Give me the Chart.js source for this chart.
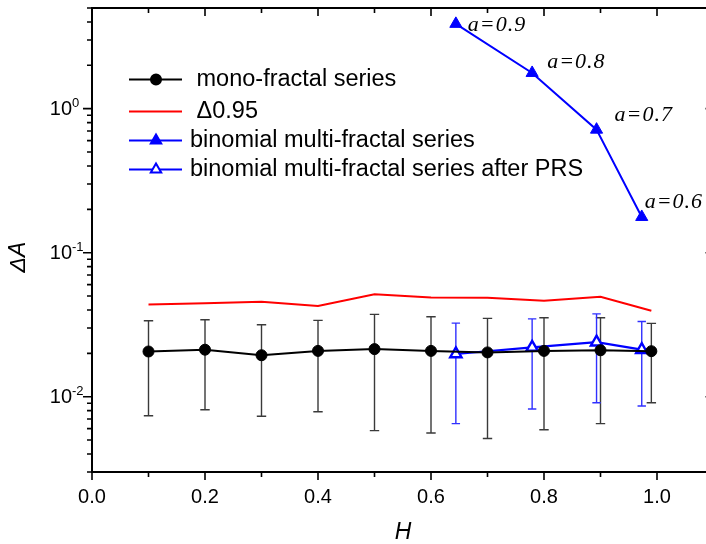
<!DOCTYPE html>
<html><head><meta charset="utf-8">
<script src="https://cdn.jsdelivr.net/npm/chart.js@4/dist/chart.umd.min.js"></script>
<style>html,body{margin:0;padding:0;background:#fff;overflow:hidden;width:706px;height:544px}canvas{display:block}</style>
</head><body>
<canvas id="c" width="714" height="544"></canvas>
<script>
const H_mono = [0.1,0.2,0.3,0.4,0.5,0.6,0.7,0.8,0.9,0.99];
const dA_mono = [0.0206,0.0212,0.0194,0.0208,0.0214,0.0208,0.0203,0.0208,0.0210,0.0207];
const dA_mono_hi = [0.0337,0.0342,0.0316,0.0339,0.0373,0.0359,0.0350,0.0353,0.0353,0.0323];
const dA_mono_lo = [0.00738,0.00812,0.00731,0.00787,0.00581,0.00560,0.00512,0.00590,0.00650,0.00908];
const dA_095 = [0.0437,0.0445,0.0456,0.0426,0.0515,0.0489,0.0487,0.0463,0.0494,0.0395];
const H_binom = [0.644,0.779,0.893,0.973];
const dA_binom = [3.88,1.77,0.715,0.177];
const dA_prs = [0.0198,0.0220,0.0239,0.0212];
const dA_prs_hi = [0.0324,0.0347,0.0376,0.0333];
const dA_prs_lo = [0.00650,0.00822,0.00908,0.00862];
const aLabels = ['a=0.9','a=0.8','a=0.7','a=0.6'];
const seriesNames = [' mono-fractal series',' \u03940.95','binomial multi-fractal series','binomial multi-fractal series after PRS'];
const xMajorTicks = [0,0.2,0.4,0.6,0.8,1.0];
const xTickLabels = ['0.0','0.2','0.4','0.6','0.8','1.0'];
const xMinorTicks = [0.1,0.3,0.5,0.7,0.9,1.1];
const yMajorTicks = [1,0.1,0.01];
const yTickExps = ['0','-1','-2'];
const xTitle = 'H';
const yTitle = '\u0394A';

const SANS = '"Liberation Sans", Arial, sans-serif';
const SERIF = '"Liberation Serif", "Times New Roman", serif';
const BLUE = '#0000ff';

function pts(xs, ys){ return xs.map((x,i)=>({x:x,y:ys[i]})); }

const yMinor = [];
[0.001,0.01,0.1,1].forEach(d=>{ for(let k=2;k<=9;k++){ const v=d*k; if(v>=0.003-1e-9 && v<=5+1e-9) yMinor.push(v);} });

const errPlugin = {
  id:'err',
  beforeDatasetsDraw(chart){
    const ctx=chart.ctx, xs=chart.scales.x, ys=chart.scales.y;
    function bars(X,lo,hi,color,cap,w){
      ctx.save(); ctx.strokeStyle=color; ctx.lineWidth=w;
      X.forEach((x,i)=>{
        const px=xs.getPixelForValue(x), a=ys.getPixelForValue(lo[i]), b=ys.getPixelForValue(hi[i]);
        ctx.beginPath();
        ctx.moveTo(px,a); ctx.lineTo(px,b);
        ctx.moveTo(px-cap,a); ctx.lineTo(px+cap,a);
        ctx.moveTo(px-cap,b); ctx.lineTo(px+cap,b);
        ctx.stroke();
      });
      ctx.restore();
    }
    bars(H_mono,dA_mono_lo,dA_mono_hi,'#3a3a3a',4.7,1.4);
    bars(H_binom,dA_prs_lo,dA_prs_hi,'#3030ff',4.2,1.4);
  }
};

const decoPlugin = {
  id:'deco',
  afterDraw(chart){
    const ctx=chart.ctx, xs=chart.scales.x, ys=chart.scales.y, ca=chart.chartArea;
    ctx.save();
    ctx.strokeStyle='#000'; ctx.lineWidth=2;
    ctx.strokeRect(ca.left,ca.top,ca.right-ca.left,ca.bottom-ca.top);
    ctx.lineWidth=1.6;
    ctx.beginPath();
    xMajorTicks.forEach(v=>{const p=xs.getPixelForValue(v);
      ctx.moveTo(p,ca.bottom); ctx.lineTo(p,ca.bottom+8);
      ctx.moveTo(p,ca.top); ctx.lineTo(p,ca.top+8);});
    xMinorTicks.forEach(v=>{const p=xs.getPixelForValue(v);
      ctx.moveTo(p,ca.bottom); ctx.lineTo(p,ca.bottom+5);
      ctx.moveTo(p,ca.top); ctx.lineTo(p,ca.top+5);});
    yMajorTicks.forEach(v=>{const p=ys.getPixelForValue(v);
      ctx.moveTo(ca.left,p); ctx.lineTo(ca.left-9,p);
      ctx.moveTo(ca.right,p); ctx.lineTo(ca.right-8,p);});
    yMinor.forEach(v=>{const p=ys.getPixelForValue(v);
      ctx.moveTo(ca.left,p); ctx.lineTo(ca.left-5,p);
      ctx.moveTo(ca.right,p); ctx.lineTo(ca.right-5,p);});
    ctx.stroke();
    ctx.fillStyle='#000';
    ctx.font='20px '+SANS; ctx.textAlign='center'; ctx.textBaseline='middle';
    xMajorTicks.forEach((v,i)=>{ ctx.fillText(xTickLabels[i], xs.getPixelForValue(v), ca.bottom+25); });
    yMajorTicks.forEach((v,i)=>{
      const p=ys.getPixelForValue(v);
      ctx.font='20px '+SANS; ctx.textAlign='right'; ctx.textBaseline='middle';
      ctx.fillText('10', 72, p+1);
      ctx.font='13px '+SANS; ctx.textAlign='left';
      ctx.fillText(yTickExps[i], 72, p-5);
    });
    ctx.font='italic 23px '+SANS; ctx.textAlign='center'; ctx.textBaseline='middle';
    ctx.fillText(xTitle, 403, 533);
    ctx.save(); ctx.translate(19,257); ctx.rotate(-Math.PI/2);
    ctx.fillText(yTitle,0,0); ctx.restore();
    const offs=[[12,1],[15,-11],[18,-14],[3,-15]];
    ctx.font='italic 22px '+SERIF; ctx.textAlign='left'; ctx.textBaseline='middle';
    try{ ctx.letterSpacing='1px'; }catch(e){}
    H_binom.forEach((x,i)=>{
      const px=xs.getPixelForValue(x), py=ys.getPixelForValue(dA_binom[i]);
      ctx.fillText(aLabels[i], px+offs[i][0], py+offs[i][1]);
    });
    try{ ctx.letterSpacing='0px'; }catch(e){}
    const rows=[79.5,111.5,140.5,169.5];
    const styles=[
      {c:'#000',m:'circle',fill:'#000'},
      {c:'#ff0000',m:null},
      {c:BLUE,m:'triangle',fill:BLUE},
      {c:BLUE,m:'triangle',fill:'#fff'}];
    rows.forEach((y,i)=>{
      const s=styles[i];
      ctx.strokeStyle=s.c; ctx.lineWidth=2;
      ctx.beginPath(); ctx.moveTo(129,y); ctx.lineTo(182,y); ctx.stroke();
      if(s.m){
        ctx.fillStyle=s.fill; ctx.strokeStyle=s.c; ctx.lineWidth=2;
        Chart.helpers.drawPoint(ctx,{pointStyle:s.m,radius:s.m==='circle'?5:6,borderWidth:s.fill==='#fff'?2:1,rotation:0},156,y);
      }
      ctx.fillStyle='#000'; ctx.font='23.5px '+SANS; ctx.textAlign='left'; ctx.textBaseline='middle';
      ctx.fillText(seriesNames[i],190,y);
    });
    ctx.restore();
  }
};

new Chart(document.getElementById('c'),{
  type:'line',
  data:{datasets:[
    {label:seriesNames[0],data:pts(H_mono,dA_mono),borderColor:'#000',borderWidth:2,pointStyle:'circle',pointRadius:5.5,pointBackgroundColor:'#000',pointBorderColor:'#000',pointBorderWidth:1},
    {label:seriesNames[1],data:pts(H_mono,dA_095),borderColor:'#ff0000',borderWidth:2,pointRadius:0},
    {label:seriesNames[2],data:pts(H_binom,dA_binom),borderColor:BLUE,borderWidth:2,pointStyle:'triangle',pointRadius:7,pointBackgroundColor:BLUE,pointBorderColor:BLUE,pointBorderWidth:1},
    {label:seriesNames[3],data:pts(H_binom,dA_prs),borderColor:BLUE,borderWidth:2.2,pointStyle:'triangle',pointRadius:6.5,pointBackgroundColor:'#fff',pointBorderColor:BLUE,pointBorderWidth:2.4}
  ]},
  options:{
    responsive:false, animation:false, devicePixelRatio:1,
    layout:{autoPadding:false,padding:{top:8,right:0.5,left:0,bottom:0}},
    plugins:{legend:{display:false},tooltip:{enabled:false}},
    elements:{line:{tension:0}},
    scales:{
      x:{type:'linear',min:0,max:1.1,grid:{display:false},border:{display:false},ticks:{display:false},afterFit(s){s.height=72;}},
      y:{type:'logarithmic',min:0.003,max:5,grid:{display:false},border:{display:false},ticks:{display:false},afterFit(s){s.width=92;}}
    }
  },
  plugins:[errPlugin,decoPlugin]
});
</script>
</body></html>
